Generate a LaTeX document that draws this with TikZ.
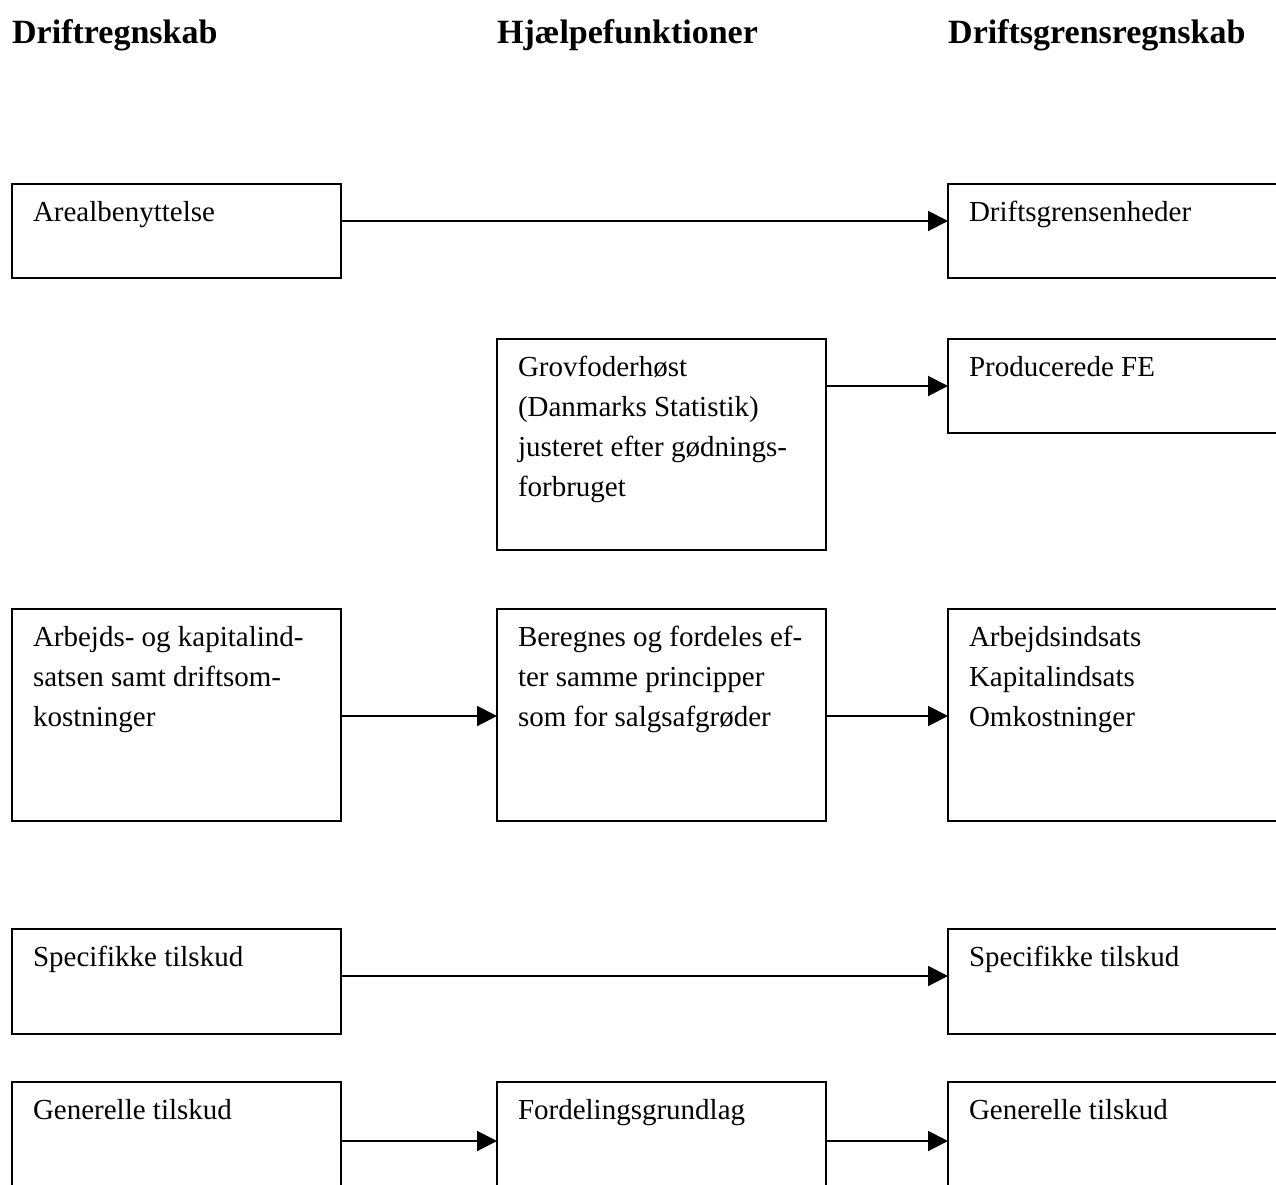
\documentclass[tikz,border=0pt]{standalone}
\usepackage{fontspec}
\setmainfont[Ligatures=NoCommon]{Liberation Serif}
\usetikzlibrary{arrows.meta}
\begin{document}
\begin{tikzpicture}[x=1pt,y=-1pt,
  box/.style={draw, line width=2pt, rectangle, inner sep=0pt, outer sep=0pt, anchor=north west},
  colw/.style={minimum width=329pt},
  rightw/.style={minimum width=342pt},
  txt/.style={anchor=north west, inner sep=0pt, outer sep=0pt, align=left, font=\fontsize{29}{40}\selectfont},
  head/.style={anchor=base west, inner sep=0pt, font=\bfseries\fontsize{34}{40}\selectfont},
  arr/.style={line width=2pt, -{Triangle[length=20pt,width=20pt]}}]
\clip (0,0) rectangle (1276,1184);

% headings
\node[head] (h1) at (12,43) {Driftregnskab};
\node[head] (h2) at (497,43) {Hjælpefunktioner};
\node[head] (h3) at (948,43) {Driftsgrensregnskab};

% row 1
\node[box, colw, minimum height=94pt] (L1) at (12,184) {};
\node[box, rightw, minimum height=94pt] (R1) at (948,184) {};
\node[txt] (L1t) at ([shift={(21pt,-12pt)}]L1.north west) {\rule{0pt}{25pt}Arealbenyttelse};
\node[txt] (R1t) at ([shift={(21pt,-12pt)}]R1.north west) {\rule{0pt}{25pt}Driftsgrensenheder};
\draw[arr] ([yshift=-37pt]L1.north east) -- ([yshift=-37pt]R1.north west);

% row 2
\node[box, colw, minimum height=211pt] (M2) at (497,339) {};
\node[box, rightw, minimum height=94pt] (R2) at (948,339) {};
\node[txt] (M2t) at ([shift={(21pt,-12pt)}]M2.north west) {\rule{0pt}{25pt}Grovfoderhøst\\(Danmarks Statistik)\\justeret efter gødnings-\\forbruget};
\node[txt] (R2t) at ([shift={(21pt,-12pt)}]R2.north west) {\rule{0pt}{25pt}Producerede FE};
\draw[arr] ([yshift=-47pt]M2.north east) -- ([yshift=-47pt]R2.north west);

% row 3
\node[box, colw, minimum height=212pt] (L3) at (12,609) {};
\node[box, colw, minimum height=212pt] (M3) at (497,609) {};
\node[box, rightw, minimum height=212pt] (R3) at (948,609) {};
\node[txt] (L3t) at ([shift={(21pt,-12pt)}]L3.north west) {\rule{0pt}{25pt}Arbejds- og kapitalind-\\satsen samt driftsom-\\kostninger};
\node[txt] (M3t) at ([shift={(21pt,-12pt)}]M3.north west) {\rule{0pt}{25pt}Beregnes og fordeles ef-\\ter samme principper\\som for salgsafgrøder};
\node[txt] (R3t) at ([shift={(21pt,-12pt)}]R3.north west) {\rule{0pt}{25pt}Arbejdsindsats\\Kapitalindsats\\Omkostninger};
\draw[arr] ([yshift=-107pt]L3.north east) -- ([yshift=-107pt]M3.north west);
\draw[arr] ([yshift=-107pt]M3.north east) -- ([yshift=-107pt]R3.north west);

% row 4
\node[box, colw, minimum height=105pt] (L4) at (12,929) {};
\node[box, rightw, minimum height=105pt] (R4) at (948,929) {};
\node[txt] (L4t) at ([shift={(21pt,-12pt)}]L4.north west) {\rule{0pt}{25pt}Specifikke tilskud};
\node[txt] (R4t) at ([shift={(21pt,-12pt)}]R4.north west) {\rule{0pt}{25pt}Specifikke tilskud};
\draw[arr] ([yshift=-47pt]L4.north east) -- ([yshift=-47pt]R4.north west);

% row 5
\node[box, colw, minimum height=118pt] (L5) at (12,1082) {};
\node[box, colw, minimum height=118pt] (M5) at (497,1082) {};
\node[box, rightw, minimum height=118pt] (R5) at (948,1082) {};
\node[txt] (L5t) at ([shift={(21pt,-12pt)}]L5.north west) {\rule{0pt}{25pt}Generelle tilskud};
\node[txt] (M5t) at ([shift={(21pt,-12pt)}]M5.north west) {\rule{0pt}{25pt}Fordelingsgrundlag};
\node[txt] (R5t) at ([shift={(21pt,-12pt)}]R5.north west) {\rule{0pt}{25pt}Generelle tilskud};
\draw[arr] ([yshift=-59pt]L5.north east) -- ([yshift=-59pt]M5.north west);
\draw[arr] ([yshift=-59pt]M5.north east) -- ([yshift=-59pt]R5.north west);
\end{tikzpicture}
\end{document}
